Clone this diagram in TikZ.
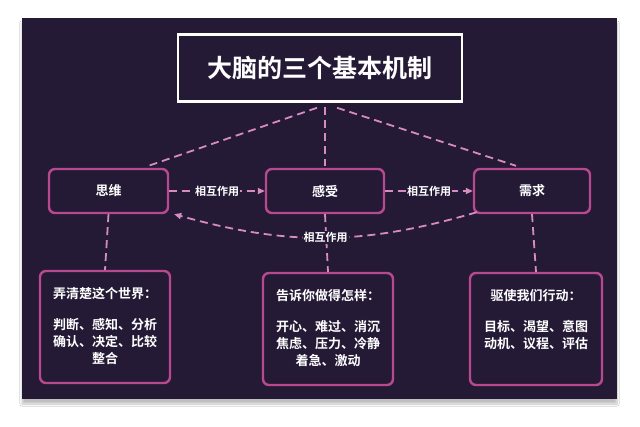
\documentclass[tikz,border=0pt]{standalone}
\usepackage{xcolor}
\usepackage{fontspec}
\setmainfont{Noto Sans CJK SC}[BoldFont=* Bold]
\usepackage{tikz}
\usetikzlibrary{arrows.meta,positioning,calc,shadows.blur}
\definecolor{panel}{HTML}{251A36}
\definecolor{rose}{HTML}{B9498F}
\definecolor{dashrose}{HTML}{D68BC3}

\begin{document}
\begin{tikzpicture}[x=1pt,y=-1pt,every node/.style={text=white,font=\bfseries,align=center},
  mech/.style={draw=rose,line width=2.4pt,rounded corners=6pt,minimum width=#1,minimum height=44pt,font=\bfseries\fontsize{13}{16}\selectfont},
  detail/.style={draw=rose,line width=2.4pt,rounded corners=6pt,minimum width=#1,minimum height=112pt,inner sep=0pt,font=\bfseries\fontsize{13}{17}\selectfont},
  link/.style={draw=dashrose,line width=1.8pt,dash pattern=on 8pt off 5pt},
  tag/.style={fill=panel,inner sep=1pt,font=\bfseries\fontsize{11}{13}\selectfont}]
\fill[white] (0,0) rectangle (640,426);
\fill[panel,blur shadow={shadow xshift=0pt,shadow yshift=-5pt,shadow blur steps=12,shadow opacity=25}] (22,18) rectangle (617,399);
\node[draw=white,line width=2.6pt,minimum width=284pt,minimum height=67pt,font=\bfseries\fontsize{25}{30}\selectfont] (title) at (320,68) {大脑的三个基本机制};
% three mechanisms
\node[mech=119pt] (think) at (108.5,191) {思维};
\node[mech=118pt] (feel) at (325,191) {感受};
\node[mech=116pt] (need) at (532,191) {需求};
% details
\node[detail=130pt] (thinkd) at (105,327) {\parbox[c][80pt][t]{124pt}{\centering 弄清楚这个世界：\\[14pt]判断、感知、分析\\确认、决定、比较\\整合}};
\node[detail=130pt] (feeld) at (328,329) {\parbox[c][80pt][t]{124pt}{\centering 告诉你做得怎样：\\[14pt]开心、难过、消沉\\焦虑、压力、冷静\\着急、激动}};
\node[detail=132pt] (needd) at (536,329) {\parbox[c][80pt][t]{126pt}{\centering 驱使我们行动：\\[14pt]目标、渴望、意图\\动机、议程、评估}};
% connectors
\draw[link] ($(title.south)+(-3,5)$) -- ($(think.north)+(40,-2)$);
\draw[link] ($(title.south -| feel.north)+(0,4)$) -- ($(feel.north)+(0,-2)$);
\draw[link] ($(title.south)+(17,5)$) -- ($(need.north)+(-16,-2)$);
\draw[link,-{Triangle[length=7pt,width=6pt]}] (think.east) -- node[tag] {相互作用} (feel.west);
\draw[link,-{Triangle[length=7pt,width=6pt]}] (feel.east) -- node[tag] {相互作用} (need.west);
\draw[link] (think.south) -- (thinkd.north);
\draw[link] (feel.south) -- (feeld.north);
\draw[link] (need.south) -- (needd.north);
\draw[link,-{Triangle[length=7pt,width=6pt]}] ($(need.south west)+(4,-2)$) to[bend left=16] node[tag] {相互作用} ($(think.south east)+(5,0)$);
\end{tikzpicture}
\end{document}
